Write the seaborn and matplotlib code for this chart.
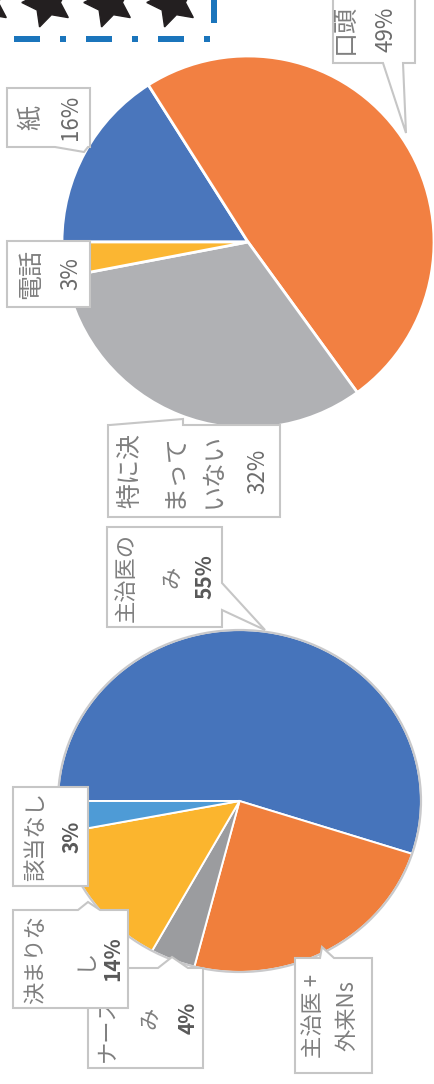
import matplotlib
matplotlib.use("Agg")
import matplotlib.pyplot as plt
from matplotlib.patches import Polygon, Circle
import seaborn as sns

# ---- data -------------------------------------------------------------
# 連絡方法
method_labels = ["紙", "口頭", "特に決まっていない", "電話"]
method_share = [16, 49, 32, 3]
method_colors = ["#4A76BC", "#F28042", "#B0B1B4", "#FBB632"]

# 説明担当
staff_labels = ["主治医のみ", "主治医 +外来Ns", "ナースのみ", "決まりなし", "該当なし"]
staff_share = [55, 24, 4, 14, 3]
staff_colors = ["#4674BB", "#F07F3C", "#9B9C9F", "#FBB52E", "#4E9BD6"]

# ---- style ------------------------------------------------------------
sns.set_style("white")
plt.rcParams["font.family"] = ["Noto Sans CJK JP", "DejaVu Sans"]
plt.rcParams["lines.scale_dashes"] = False

W, H = 435, 1084
PX = 0.72  # points per pixel at 100 dpi
fig = plt.figure(figsize=(W / 100, H / 100), dpi=100)


def pie_axes(cx, cy, rx, ry, pad=1.04):
    ax = fig.add_axes([(cx - pad * rx) / W, 1 - (cy + pad * ry) / H,
                       2 * pad * rx / W, 2 * pad * ry / H])
    return ax, pad


def draw_pie(ax, pad, values, colors, edge_lw, outline=None):
    ax.pie(values, colors=colors, startangle=180, counterclock=False,
           radius=1, wedgeprops=dict(edgecolor="white", linewidth=edge_lw))
    if outline:
        ax.add_patch(Circle((0, 0), 1, fill=False, edgecolor=outline,
                            linewidth=1.6))
    ax.set_xlim(-pad, pad)
    ax.set_ylim(-pad, pad)
    ax.set_aspect("auto")
    ax.axis("off")


ax_top, pad_t = pie_axes(248, 242, 186, 186)
draw_pie(ax_top, pad_t, method_share, method_colors, 2.0)

ax_bot, pad_b = pie_axes(239.5, 801, 181.5, 171)
draw_pie(ax_bot, pad_b, staff_share, staff_colors, 1.4, outline="#C9C9CB")

# ---- overlay (pixel coordinates) ---------------------------------------
ov = fig.add_axes([0, 0, 1, 1])
ov.set_xlim(0, W)
ov.set_ylim(H, 0)
ov.axis("off")
ov.set_zorder(5)
ov.patch.set_alpha(0)

# stars and dash-dot frame along the top edge
ov.plot([-15, 47, 109, 172], [2, 2, 2, 2], linestyle="none",
        marker=(5, 1, 90), markersize=37, color="#231F20")
ov.plot([14, 214, 214], [39, 39, -40], color="#1B75BC", lw=6 * PX,
        dashes=[26 * PX, 20 * PX, 6 * PX, 20 * PX], dash_capstyle="butt")


def callout(box, ptr, z):
    x0, y0, x1, y1 = box
    pts = [(x0, y0)]
    if ptr and ptr[0] == "top":
        _, b0, b1, tip = ptr
        pts += [(b0, y0), tip, (b1, y0)]
    pts += [(x1, y0)]
    if ptr and ptr[0] == "right":
        _, b0, b1, tip = ptr
        pts += [(x1, b0), tip, (x1, b1)]
    pts += [(x1, y1)]
    if ptr and ptr[0] == "bottom":
        _, b0, b1, tip = ptr
        pts += [(b1, y1), tip, (b0, y1)]
    pts += [(x0, y1)]
    ov.add_patch(Polygon(pts, closed=True, facecolor="white",
                         edgecolor="#C6C6C6", linewidth=1.5, zorder=z))


def chunks(text, n):
    return [text[i:i + n] for i in range(0, len(text), n)]


def label(name, pct, lay, z, name_size, pct_size, pct_weight, pct_color):
    # each callout sits above the previous one, so later boxes hide earlier text
    callout(lay["box"], lay.get("ptr"), z)
    x0, y0, x1, y1 = lay["box"]
    yc = (y0 + y1) / 2
    lines = chunks(name, lay["wrap"])
    styles = [dict(size=name_size, color="#7F7F7F")] * len(lines)
    if lay.get("pct", True):
        lines.append(f"{pct}%")
        styles.append(dict(size=pct_size, color=pct_color, weight=pct_weight))
    for x, line, st in zip(lay["cols"], lines, styles):
        ov.text(x, yc, line, rotation=90, ha="center", va="center",
                zorder=z + 0.5, **st)


top_layout = {
    "口頭": dict(box=(333, -5, 415, 63), cols=[346, 386], wrap=2,
               ptr=("bottom", 383, 403, (406, 133))),
    "紙": dict(box=(7, 88, 90, 147), cols=[31, 71], wrap=1,
              ptr=("bottom", 55, 88, (84, 152))),
    "電話": dict(box=(7, 241, 90, 307), cols=[31, 71], wrap=2),
    "特に決まっていない": dict(box=(108, 425, 280, 517),
                      cols=[130, 175, 214, 258], wrap=3,
                      ptr=("top", 110, 183, (183, 419))),
}
for i, (name, pct) in enumerate(zip(method_labels, method_share)):
    label(name, pct, top_layout[name], 2 + i, 18, 16, "normal", "#6B6B6B")

bottom_layout = {
    "主治医のみ": dict(box=(107, 527, 222, 627), cols=[126, 172, 205], wrap=4,
                  ptr=("right", 583, 610, (265, 630))),
    "主治医 +外来Ns": dict(box=(295, 958, 372, 1073), cols=[314, 347], wrap=5,
                      pct=False, ptr=("top", 320, 334, (322, 947))),
    "ナースのみ": dict(box=(88, 968, 203, 1068), cols=[107, 150, 188], wrap=4,
                  ptr=("top", 158, 188, (172, 957))),
    "決まりなし": dict(box=(13, 910, 128, 1008), cols=[36, 83, 113], wrap=4,
                  ptr=("top", 78, 100, (88, 902))),
    "該当なし": dict(box=(13, 787, 88, 886), cols=[36, 72], wrap=4),
}
for i, (name, pct) in enumerate(zip(staff_labels, staff_share)):
    label(name, pct, bottom_layout[name], 10 + i, 16, 15, "bold", "#595959")

fig.savefig("out.png", dpi=100)
